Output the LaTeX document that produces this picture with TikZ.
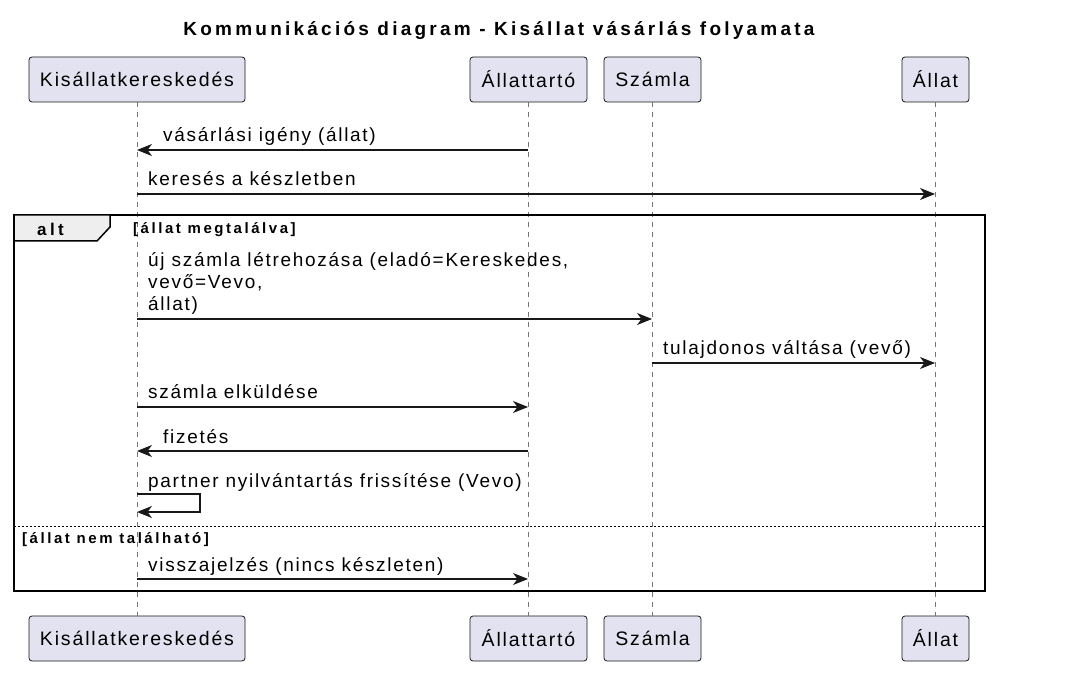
\documentclass[tikz,border=0pt]{standalone}
\usepackage{fontspec}
\setmainfont{Liberation Sans}[LetterSpace=9]
\newfontfamily\partfont{Liberation Sans}[LetterSpace=9.5]
\newfontfamily\titlefont{Liberation Sans}[LetterSpace=17,BoldFont={* Bold}]
\newfontfamily\guardfont{Liberation Sans}[LetterSpace=17,BoldFont={* Bold}]
\newfontfamily\altfont{Liberation Sans}[LetterSpace=20,BoldFont={* Bold}]
\usetikzlibrary{arrows.meta}
\definecolor{partfill}{HTML}{E2E2F0}
\definecolor{ink}{HTML}{181818}
\definecolor{tabfill}{HTML}{EEEEEE}
\tikzset{
  part/.style={draw=ink, fill=partfill, rounded corners=3pt, line width=0.8pt, minimum height=45pt, inner sep=0pt, font=\partfont\fontsize{19.5}{22}\selectfont, text=black},
  life/.style={draw=ink!60, dash pattern=on 5pt off 5pt, line width=0.8pt},
  msg/.style={draw=ink, line width=1.2pt, -{Stealth[length=15pt,width=12pt,inset=4.5pt]}},
  lbl/.style={anchor=base west, inner sep=0pt, font=\fontsize{19}{22}\selectfont, text=black},
  guard/.style={anchor=base west, inner sep=0pt, font=\guardfont\bfseries\fontsize{15}{16}\selectfont, text=black},
}
\begin{document}
\begin{tikzpicture}[x=1pt,y=-1pt]
\useasboundingbox (0,0) rectangle (1074,684);
\node[font=\titlefont\bfseries\fontsize{19}{22}\selectfont, anchor=base, inner sep=0pt] (title) at (499,35.5) {Kommunikációs diagram - Kisállat vásárlás folyamata};
% participants
\node[part, minimum width=216pt] (kT) at (137,79.5) {Kisállatkereskedés};
\node[part, minimum width=117pt] (aT) at (528.5,79.5) {Állattartó};
\node[part, minimum width=97pt] (sT) at (652.5,79.5) {Számla};
\node[part, minimum width=67pt] (lT) at (935.5,79.5) {Állat};
\node[part, minimum width=216pt] (kB) at (137,638.5) {Kisállatkereskedés};
\node[part, minimum width=117pt] (aB) at (528.5,638.5) {Állattartó};
\node[part, minimum width=97pt] (sB) at (652.5,638.5) {Számla};
\node[part, minimum width=67pt] (lB) at (935.5,638.5) {Állat};
% lifelines
\draw[life] (kT.south) -- (kB.north);
\draw[life] (aT.south) -- (aB.north);
\draw[life] (sT.south) -- (sB.north);
\draw[life] (lT.south) -- (lB.north);
% alt frame
\draw[line width=2pt, draw=black] (14,215) rectangle (985,591);
\filldraw[fill=tabfill, draw=black, line width=1.5pt] (14,215) -- (110,215) -- (110,227) -- (97,241) -- (14,241) -- cycle;
\node[anchor=base west, inner sep=0pt, font=\altfont\bfseries\fontsize{17}{18}\selectfont] (altlbl) at (37,236) {alt};
\node[guard] (g1) at (133,234) {[állat megtalálva]};
\draw[draw=black, line width=1pt, dash pattern=on 2pt off 2pt] (14,526) -- (985,526);
\node[guard] (g2) at (22,543) {[állat nem található]};
% message coordinates
\coordinate (k1) at (137,150); \coordinate (a1) at (528,150);
\coordinate (k2) at (137,194); \coordinate (l2) at (935,194);
\coordinate (k3) at (137,319); \coordinate (s3) at (652,319);
\coordinate (s4) at (652,363); \coordinate (l4) at (935,363);
\coordinate (k5) at (137,407); \coordinate (a5) at (528,407);
\coordinate (k6) at (137,451); \coordinate (a6) at (528,451);
\coordinate (k7a) at (137,494); \coordinate (k7b) at (137,512);
\coordinate (k8) at (137,579); \coordinate (a8) at (528,579);
% messages
\draw[msg] (a1) -- (k1);
\node[lbl] at (163,142) {vásárlási igény (állat)};
\draw[msg] (k2) -- (l2);
\node[lbl] at (148,186) {keresés a készletben};
\draw[msg] (k3) -- (s3);
\node[lbl, align=left] at (148,311) {új számla létrehozása (eladó=Kereskedes,\\vevő=Vevo,\\állat)};
\draw[msg] (s4) -- (l4);
\node[lbl] at (663,355) {tulajdonos váltása (vevő)};
\draw[msg] (k5) -- (a5);
\node[lbl] at (148,399) {számla elküldése};
\draw[msg] (a6) -- (k6);
\node[lbl] at (163,443) {fizetés};
\draw[msg] (k7a) -- ++(63,0) |- (k7b);
\node[lbl] at (148,487) {partner nyilvántartás frissítése (Vevo)};
\draw[msg] (k8) -- (a8);
\node[lbl] at (148,571) {visszajelzés (nincs készleten)};
\end{tikzpicture}
\end{document}
